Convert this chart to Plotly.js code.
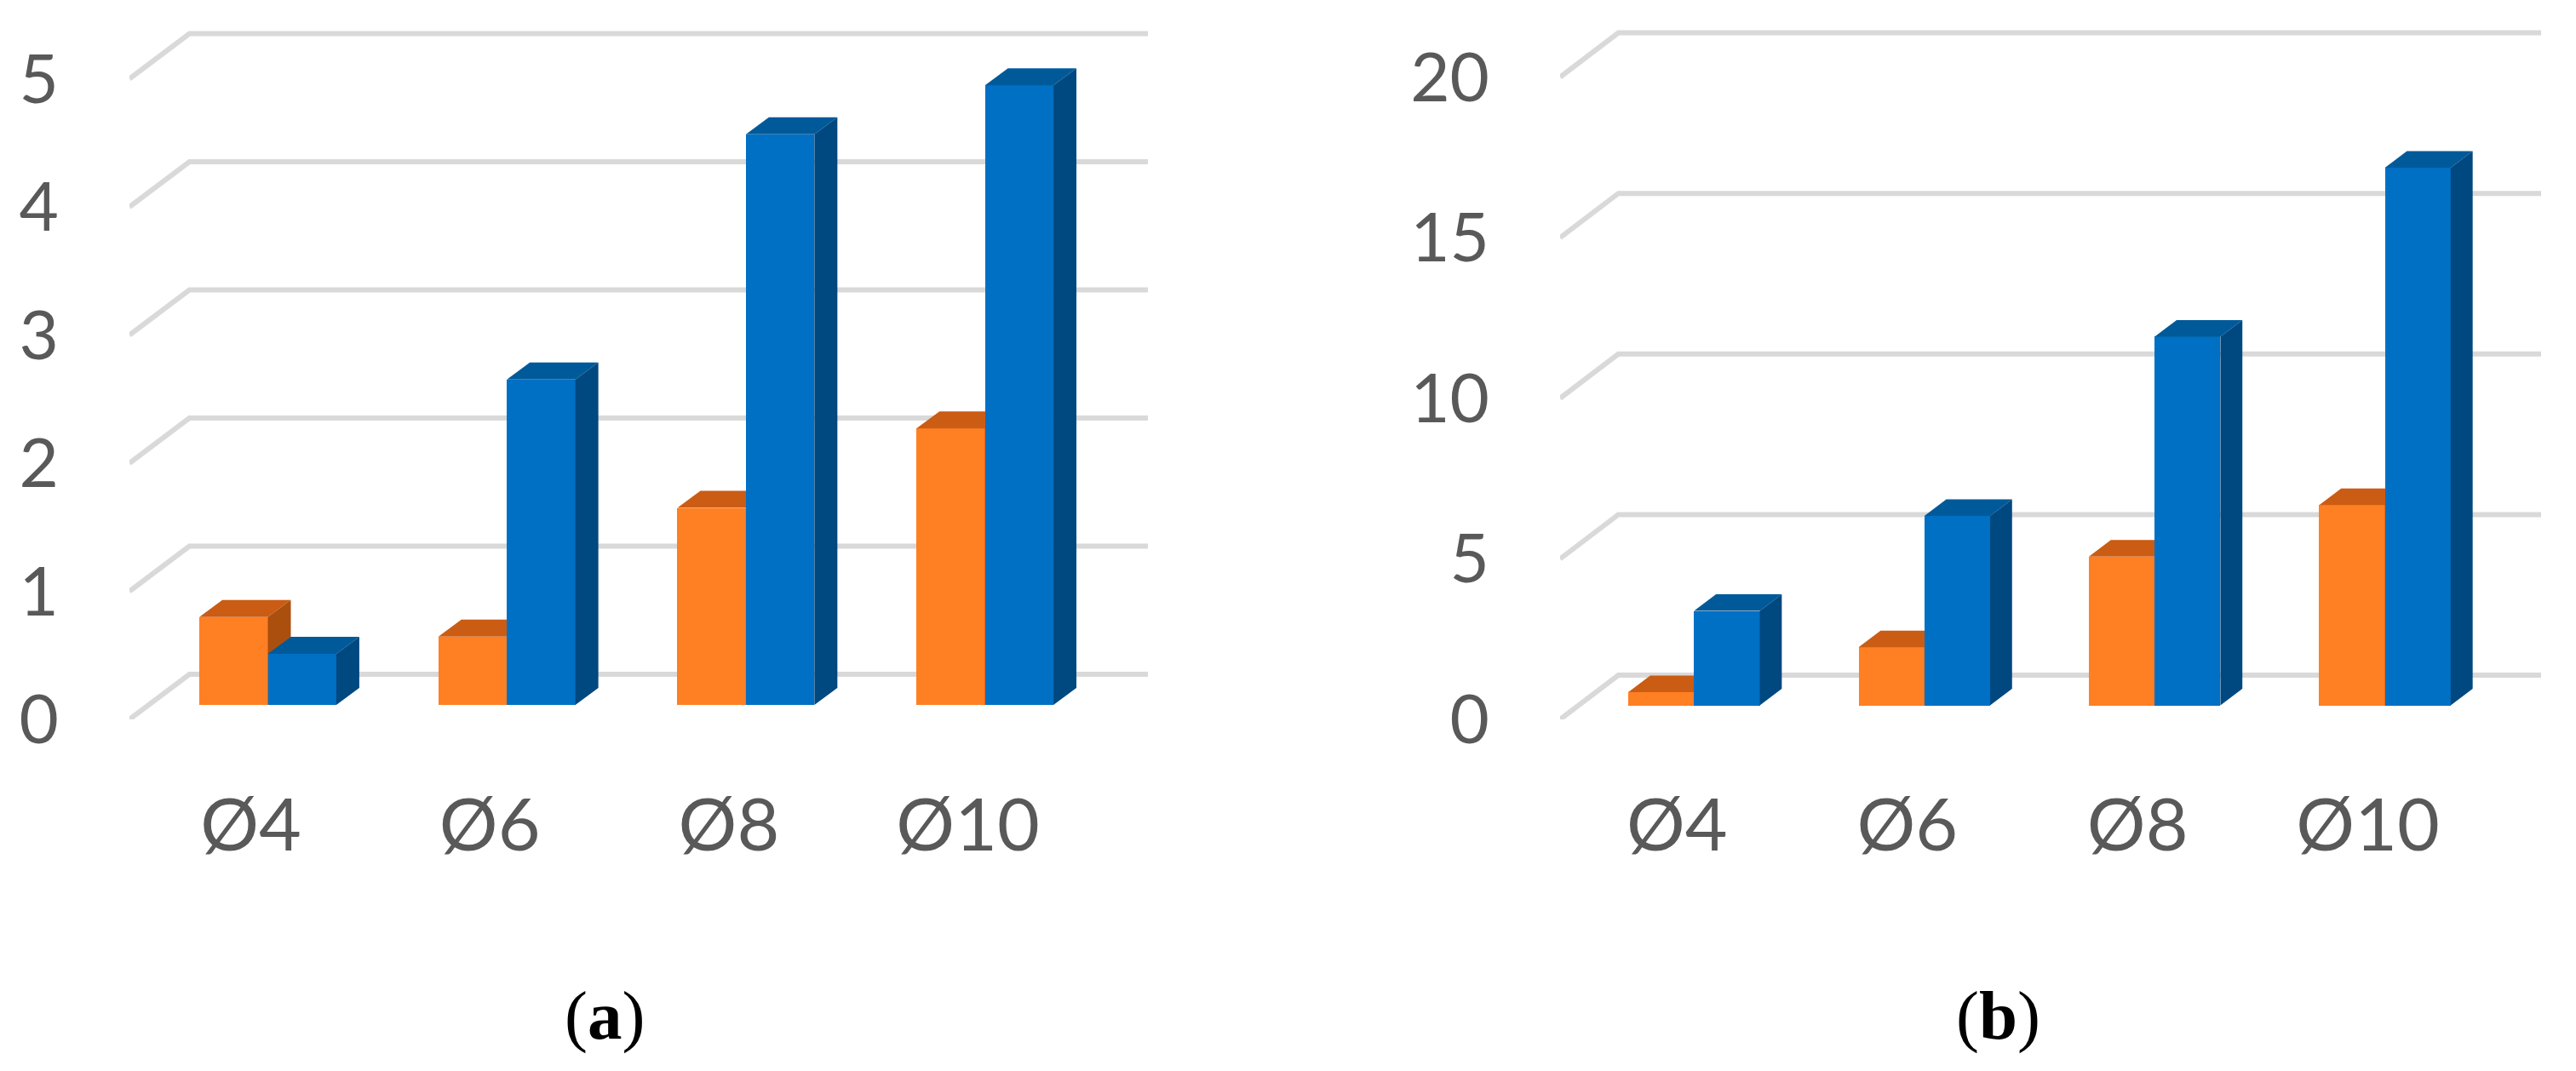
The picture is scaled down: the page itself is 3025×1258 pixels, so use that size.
<!DOCTYPE html>
<html>
<head>
<meta charset="utf-8">
<script src="https://cdn.plot.ly/plotly-3.0.1.min.js"></script>
<style>html,body{margin:0;padding:0;background:#fff}#chart{width:3025px;height:1258px}</style>
</head>
<body>
<div id="chart"></div>
<script>
const categories = ['Ø4', 'Ø6', 'Ø8', 'Ø10'];
const orangeA = [0.686, 0.534, 1.538, 2.157];
const blueA = [0.398, 2.54, 4.454, 4.835];
const orangeB = [0.41, 1.81, 4.63, 6.24];
const blueB = [2.94, 5.90, 11.48, 16.74];
const ticksA = [0, 1, 2, 3, 4, 5];
const ticksB = [0, 5, 10, 15, 20];

const W = 3025, H = 1258, GRID = '#D9D9D9', TEXT = '#595959';
const COLORS = {
  orange: {front: '#FF7F23', top: '#CB5C14', side: '#AB4F0E'},
  blue: {front: '#0070C4', top: '#005A9A', side: '#004880'}
};
const pos = categories.map((_, i) => i);
const traces = [];

function faces(values, x0s, x1s, baseY, dx, dy, which) {
  const xs = [], ys = [];
  values.forEach((v, i) => {
    const x0 = x0s(i), x1 = x1s(i), b = baseY, t = baseY + v;
    const px = which === 'top' ? [x0, x1, x1 + dx, x0 + dx, x0] : [x1, x1, x1 + dx, x1 + dx, x1];
    const py = which === 'top' ? [t, t, t + dy, t + dy, t] : [b, t, t + dy, b + dy, b];
    xs.push(...px, null); ys.push(...py, null);
  });
  return {x: xs, y: ys};
}

function panel(cfg) {
  const {ids, orange, blue, ticks} = cfg;
  const gx = [], gy = [];
  ticks.forEach(t => {
    gx.push(cfg.xr[0], cfg.xr[0] + cfg.wallDx, cfg.xr[1], null);
    gy.push(t, t + cfg.wallDy, t + cfg.wallDy, null);
  });
  traces.push({type: 'scatter', mode: 'lines', x: gx, y: gy, xaxis: ids[0][0], yaxis: ids[0][1],
    line: {color: GRID, width: 6}, cliponaxis: false, hoverinfo: 'skip', showlegend: false});

  [[orange, 'orange', -cfg.w, ids[1]], [blue, 'blue', 0, ids[2]]].forEach(([vals, name, off, id]) => {
    const c = COLORS[name];
    traces.push({type: 'bar', x: pos.map(p => p + cfg.shift), y: vals, base: vals.map(() => cfg.baseY),
      width: cfg.w, offset: off, xaxis: id[0], yaxis: id[1], marker: {color: c.front, line: {width: 0}},
      name: name, showlegend: false});
    const x0s = i => pos[i] + cfg.shift + off, x1s = i => pos[i] + cfg.shift + off + cfg.w;
    ['top', 'side'].forEach(f => {
      const p = faces(vals, x0s, x1s, cfg.baseY, cfg.dx, cfg.dy, f);
      traces.push({type: 'scatter', mode: 'lines', x: p.x, y: p.y, xaxis: id[0], yaxis: id[1],
        fill: 'toself', fillcolor: c[f], line: {width: 0, color: c[f]}, hoverinfo: 'skip', showlegend: false});
    });
  });
}

const bottomPx = 845, topPx = 20;
const panels = [
  {ids: [['x', 'y'], ['x2', 'y2'], ['x3', 'y3']], orange: orangeA, blue: blueA, ticks: ticksA,
   left: 152, right: 1348, xr: [-0.5077, 3.753], yr: [0, (bottomPx - topPx) / 150.5],
   wallDx: 0.2508, wallDy: 52.9 / 150.5, shift: 0.0712, w: 0.2865, baseY: 17 / 150.5,
   dx: 0.0962, dy: 20 / 150.5, standoff: 66},
  {ids: [['x4', 'y4'], ['x5', 'y5'], ['x6', 'y6']], orange: orangeB, blue: blueB, ticks: ticksB,
   left: 1832, right: 2984, xr: [-0.5078, 3.752], yr: [0, (bottomPx - topPx) / 37.72],
   wallDx: 0.253, wallDy: 52 / 37.72, shift: 0.074, w: 0.2855, baseY: 16.5 / 37.72,
   dx: 0.0954, dy: 19.5 / 37.72, standoff: 66}
];

const layout = {
  width: W, height: H, margin: {l: 0, r: 0, t: 0, b: 0}, autosize: false,
  paper_bgcolor: '#FFFFFF', plot_bgcolor: 'rgba(0,0,0,0)', showlegend: false, bargap: 0,
  font: {family: 'Lato, sans-serif', color: TEXT},
  annotations: [
    {text: '(<b>a</b>)', x: 710 / W, y: 1 - 1193 / H},
    {text: '(<b>b</b>)', x: 2346 / W, y: 1 - 1193 / H}
  ].map(a => Object.assign(a, {xref: 'paper', yref: 'paper', xanchor: 'center', yanchor: 'middle',
    showarrow: false, font: {family: 'Liberation Serif, serif', size: 81, color: '#000000'}}))
};

panels.forEach(cfg => {
  panel(cfg);
  const xdom = [cfg.left / W, cfg.right / W], ydom = [1 - bottomPx / H, 1 - topPx / H];
  const key = (id, pre) => pre + 'axis' + id.slice(1);
  cfg.ids.forEach((id, k) => {
    const xa = {domain: xdom, range: cfg.xr, fixedrange: true, anchor: id[1], showgrid: false, zeroline: false, showline: false};
    const ya = {domain: ydom, range: cfg.yr, fixedrange: true, anchor: id[0], showgrid: false, zeroline: false, showline: false};
    if (k === 0) {
      Object.assign(xa, {tickmode: 'array', tickvals: pos, ticktext: categories, ticks: 'outside', ticklen: 50,
        tickcolor: 'rgba(0,0,0,0)', tickfont: {family: 'Lato, sans-serif', size: 86, color: TEXT}});
      Object.assign(ya, {tickmode: 'array', tickvals: cfg.ticks, ticktext: cfg.ticks.map(String), ticks: 'outside',
        ticklen: cfg.standoff, tickcolor: 'rgba(0,0,0,0)', tickfont: {family: 'Lato, sans-serif', size: 80, color: TEXT}});
    } else {
      Object.assign(xa, {overlaying: cfg.ids[0][0], visible: false});
      Object.assign(ya, {overlaying: cfg.ids[0][1], visible: false});
    }
    layout[key(id[0], 'x')] = xa;
    layout[key(id[1], 'y')] = ya;
  });
});

Plotly.newPlot('chart', traces, layout, {staticPlot: true, displayModeBar: false});
</script>
</body>
</html>
